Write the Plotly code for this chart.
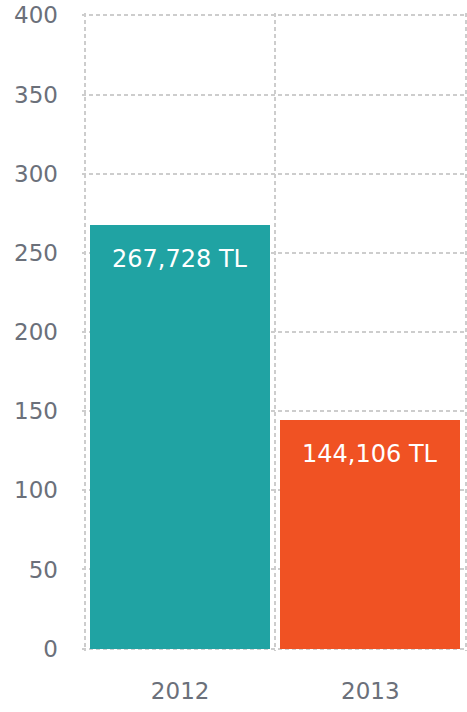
import plotly.graph_objects as go

# Yearly totals, in thousands of TL
years = ["2012", "2013"]
totals = [267.728, 144.106]
bar_colors = ["#20A3A3", "#F05223"]
y_ticks = [0, 50, 100, 150, 200, 250, 300, 350, 400]

label_font = dict(family="DejaVu Sans", size=24, color="#FFFFFF")
tick_font = dict(family="DejaVu Sans", size=23, color="#6B707A")
grid_color = "#CDCDCD"

positions = list(range(len(years)))

fig = go.Figure(
    go.Bar(
        x=positions,
        y=totals,
        width=0.945,
        marker=dict(color=bar_colors, line=dict(width=0)),
        hoverinfo="skip",
    )
)

for pos, value in zip(positions, totals):
    fig.add_annotation(
        x=pos,
        y=value,
        text=f"{value * 1000:,.0f} TL",
        showarrow=False,
        yanchor="middle",
        yshift=-34,
        font=label_font,
    )

# Small padding beyond the outer ticks so the edge grid lines are kept
fig.update_layout(
    width=467,
    height=712,
    margin=dict(l=82, r=0, t=12.6, b=60.6, autoexpand=False),
    paper_bgcolor="#FFFFFF",
    plot_bgcolor="#FFFFFF",
    showlegend=False,
    bargap=0,
)

# Category boundaries carry the vertical grid; labels sit at the centres
fig.update_xaxes(
    type="linear",
    range=[-0.5158, len(years) - 0.5 + 0.0079],
    tickvals=positions,
    ticktext=years,
    tickangle=0,
    showgrid=False,
    minor=dict(
        tick0=0.5,
        dtick=1,
        showgrid=True,
        gridcolor=grid_color,
        gridwidth=1.5,
        griddash="4px,3px",
        ticks="",
    ),
    ticks="",
    showline=False,
    zeroline=False,
    tickfont=tick_font,
    ticklabelstandoff=24,
    automargin=False,
)

fig.update_yaxes(
    range=[-1.5, 401.5],
    tickvals=y_ticks,
    showgrid=True,
    gridcolor=grid_color,
    gridwidth=1.5,
    griddash="4px,3px",
    ticks="",
    showline=False,
    zeroline=False,
    tickfont=tick_font,
    ticklabelstandoff=23,
    automargin=False,
)

fig.write_html("out.html")
